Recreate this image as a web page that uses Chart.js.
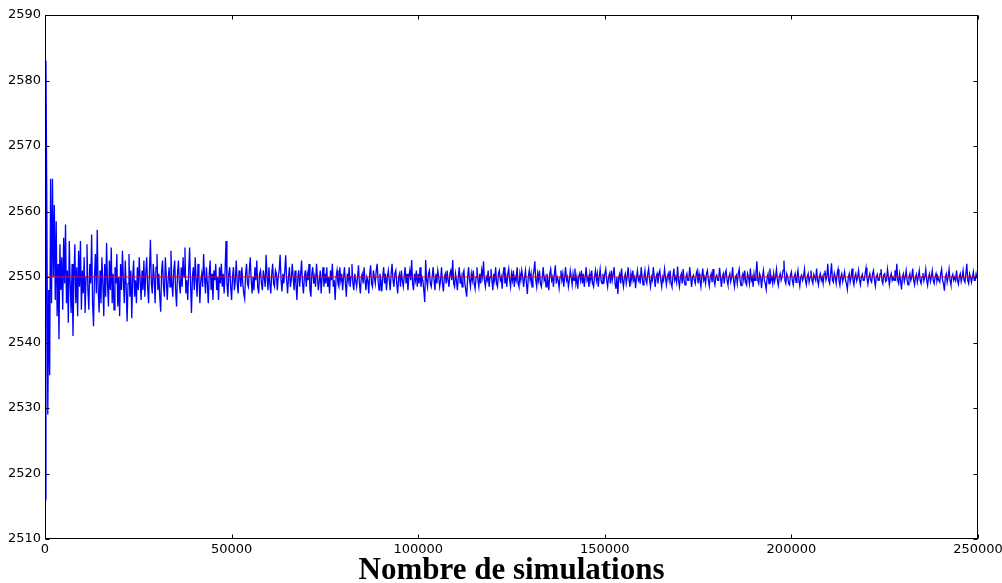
<!DOCTYPE html>
<html>
<head>
<meta charset="utf-8">
<script src="https://cdn.jsdelivr.net/npm/chart.js@4/dist/chart.umd.min.js"></script>
<style>
  html, body { margin: 0; padding: 0; background: #fff; }
  #wrap { width: 1002px; height: 583px; }
</style>
</head>
<body>
<div id="wrap"><canvas id="convChart" width="1002" height="583"></canvas></div>
<script>
// running mean sampled every 250 simulations
const runStep = 250;
const runMeans = [
  2516, 2583, 2560, 2529, 2548, 2535, 2565, 2546, 2565, 2550,
  2561, 2546.5, 2558.5, 2544, 2552, 2540.5, 2555, 2548, 2553, 2545,
  2556, 2549, 2558, 2546, 2551, 2543, 2555.5, 2549, 2544.5, 2552,
  2541, 2550, 2555, 2546, 2551.5, 2544, 2554, 2548.5, 2555.5, 2545,
  2551, 2547.5, 2553, 2544.5, 2550, 2555, 2548, 2545, 2552, 2549,
  2556.5, 2546, 2542.5, 2550, 2553.5, 2547.5, 2557.2, 2548, 2544.6, 2551,
  2546, 2553, 2549, 2544, 2552, 2547, 2555.2, 2549, 2545.5, 2552.5,
  2548, 2554.5, 2546, 2550.5, 2545, 2551.5, 2549, 2553.5, 2545.5, 2550,
  2544, 2552, 2548, 2554, 2549.5, 2546, 2552.5, 2548.5, 2543.2, 2549,
  2553.5, 2547, 2551, 2543.7, 2550, 2552.5, 2547, 2549.5, 2546, 2551.5,
  2548, 2553, 2549.5, 2546.5, 2551, 2548, 2552.5, 2547, 2550.5, 2553,
  2548.5, 2546, 2551, 2555.7, 2549, 2547.5, 2552, 2550, 2546, 2551.5,
  2553.5, 2548, 2550.5, 2547, 2544.7, 2551, 2552.5, 2548.5, 2547, 2553,
  2550, 2546.5, 2549.5, 2551.5, 2548.5, 2554, 2549, 2547, 2551, 2552.5,
  2548, 2545.5, 2550.5, 2552.5, 2549, 2547.5, 2551.5, 2548.5, 2553, 2550,
  2554.5, 2547.5, 2549.5, 2546.5, 2551, 2554.5, 2549, 2544.5, 2550, 2551.5,
  2548, 2553, 2549.5, 2547, 2552, 2550, 2546, 2549.5, 2550.5, 2548.5,
  2553.5, 2550, 2547.5, 2551.5, 2549, 2546, 2550.5, 2552.5, 2548, 2550.5,
  2546.5, 2551, 2549.5, 2552, 2548, 2550, 2546.5, 2551.5, 2549, 2552,
  2548.5, 2550.5, 2547.5, 2551, 2555.5, 2549, 2547, 2550.5, 2551.5, 2548.5,
  2546.5, 2550, 2551.5, 2548, 2549.5, 2552.5, 2549, 2547.5, 2551, 2550,
  2548.5, 2551.5, 2549, 2547.5, 2546.7, 2550.5, 2552, 2549, 2548.5, 2551,
  2553, 2549.5, 2547.5, 2550, 2548, 2551.5, 2549.5, 2552.5, 2548.5, 2547.5,
  2550.5, 2551, 2549, 2548, 2551, 2550, 2548.5, 2553.4, 2550, 2548,
  2551.5, 2549, 2547.5, 2550.5, 2552, 2549, 2548.5, 2551, 2550.5, 2548,
  2550, 2551, 2553.4, 2549.5, 2547.8, 2550.5, 2549, 2551, 2553.3, 2549.5,
  2547.5, 2550, 2551.5, 2548.5, 2549.5, 2552, 2550, 2548, 2551, 2549,
  2546.5, 2550, 2551, 2548.5, 2550.5, 2552.5, 2549, 2547.5, 2550, 2551,
  2548.5, 2550.5, 2549.5, 2552, 2548, 2547, 2550.5, 2551.5, 2549, 2550,
  2548.5, 2552, 2550, 2548, 2549.5, 2551, 2547.5, 2550, 2551.5, 2548.5,
  2550.5, 2549, 2551.5, 2548.5, 2550, 2547.5, 2551, 2549.5, 2552, 2548.5,
  2549.5, 2546.5, 2550, 2551, 2549, 2548.5, 2551.5, 2549.5, 2550.5, 2548,
  2550, 2551.5, 2549, 2547, 2550.5, 2549.5, 2551.5, 2548.5, 2550, 2552,
  2549, 2548, 2550.5, 2549.5, 2548.5, 2550, 2551.8, 2549, 2547.5, 2550,
  2550.5, 2549, 2551.5, 2549.5, 2548, 2550, 2549.5, 2547.5, 2550.5, 2551.8,
  2549, 2548.5, 2551, 2550, 2549, 2551, 2552, 2549.5, 2548, 2550.5,
  2549.5, 2547.8, 2550, 2551.5, 2549, 2550.5, 2548, 2550, 2551, 2549.5,
  2548, 2550.5, 2552, 2549.5, 2548.5, 2550.5, 2551, 2549, 2547.5, 2550,
  2550.5, 2548.5, 2551, 2549.5, 2548.5, 2550, 2551.5, 2549, 2550.5, 2548,
  2550, 2551, 2549.5, 2552.6, 2549, 2548, 2550.5, 2549.5, 2551, 2548.5,
  2550.5, 2549, 2551.5, 2548.5, 2550, 2549.5, 2548, 2546.2, 2552.6, 2549.5,
  2548.5, 2550.5, 2551, 2549, 2548.5, 2550, 2551.5, 2549.5, 2548, 2550.5,
  2549, 2551, 2550, 2548.5, 2549.5, 2551.5, 2549, 2547.8, 2550, 2550.5,
  2549, 2551, 2549.5, 2548.5, 2550.5, 2551, 2549.5, 2552.6, 2549, 2548.5,
  2550.5, 2549.5, 2548, 2550, 2551.5, 2549, 2550, 2548.5, 2550.5, 2551,
  2549, 2548, 2547, 2550, 2551.5, 2549.5, 2548.5, 2550.5, 2549.5, 2551,
  2549, 2548.2, 2550, 2551.5, 2549.5, 2548.5, 2550.5, 2549, 2551, 2550,
  2552.4, 2549.5, 2548.5, 2550, 2549.5, 2551, 2548.5, 2550, 2551.2, 2549.5,
  2548, 2550.5, 2549.5, 2551.5, 2549, 2548.5, 2550.5, 2551, 2549.5, 2550,
  2548.2, 2550.5, 2551.5, 2549, 2550, 2548.5, 2550.5, 2551.3, 2549.5, 2548.5,
  2550.5, 2549.5, 2551, 2548.5, 2550, 2549.5, 2551.5, 2549, 2548.5, 2550.5,
  2549.5, 2551, 2550, 2548.5, 2550, 2551, 2549, 2547.4, 2550, 2551,
  2549.5, 2550.5, 2548.5, 2550, 2551, 2552.4, 2549.5, 2548.5, 2550.5, 2549.5,
  2551, 2549, 2548.5, 2550, 2551.5, 2549.5, 2550, 2548.5, 2550.5, 2549.5,
  2548, 2550.5, 2551.2, 2549.5, 2550, 2548.5, 2550.5, 2551.8, 2549, 2550,
  2549.5, 2548.3, 2550, 2551, 2549.5, 2550.5, 2548.5, 2550, 2551.5, 2549.5,
  2550, 2548.5, 2549.5, 2551, 2550, 2548.8, 2550.5, 2549.5, 2551.3, 2549,
  2550, 2548.2, 2550, 2550.5, 2549.5, 2551, 2549, 2550.5, 2548.5, 2550,
  2551.5, 2549.5, 2550, 2548.5, 2550.5, 2549.5, 2551, 2549, 2548.5, 2550,
  2551, 2549.5, 2550.5, 2548.5, 2550, 2551.2, 2549.5, 2549, 2550.5, 2549,
  2550.5, 2551.2, 2549.5, 2548.5, 2550, 2550.5, 2549, 2551, 2549.5, 2550.5,
  2551.5, 2549, 2548.2, 2550, 2547.4, 2550, 2550.5, 2549, 2551.3, 2549.5,
  2548.5, 2550, 2550.5, 2549, 2550, 2551.5, 2549.5, 2548.5, 2550.5, 2549.5,
  2551, 2549.5, 2550, 2548.3, 2550, 2551, 2549.5, 2550, 2549, 2551.5,
  2550, 2548.8, 2550, 2551, 2549.5, 2549, 2550.5, 2551.3, 2549.5, 2548.5,
  2550, 2549.5, 2551.5, 2550, 2548.5, 2550, 2550.5, 2549, 2550.5, 2551,
  2549.5, 2548.5, 2550, 2549.5, 2551.2, 2550, 2548.8, 2550, 2550.5, 2549.5,
  2551, 2549, 2548.5, 2550, 2551.3, 2549.5, 2550, 2549.2, 2551.6, 2549.5,
  2548.5, 2550, 2550.5, 2549, 2551.2, 2549.5, 2548.8, 2550, 2550.5, 2549.5,
  2549.5, 2551.5, 2550, 2548.5, 2550, 2550.3, 2549.5, 2549, 2550.5, 2551,
  2549, 2550.5, 2549.5, 2548.5, 2550, 2551.3, 2549.5, 2550, 2549, 2550.5,
  2551, 2549.5, 2548.6, 2550, 2550.5, 2549.2, 2551.2, 2549.5, 2548.8, 2550,
  2550.3, 2549.5, 2549.5, 2551.4, 2550, 2548.5, 2550, 2550.5, 2549, 2550.5,
  2551, 2549.5, 2548.8, 2550, 2550.5, 2549.3, 2550, 2551.5, 2549.5, 2548.5,
  2550, 2550.3, 2549, 2550.5, 2551.2, 2549.5, 2548.7, 2550, 2550.5, 2549.5,
  2551, 2549.2, 2548.8, 2550.5, 2550, 2549, 2551.3, 2549.5, 2550, 2548.5,
  2550.5, 2549.5, 2550.5, 2552.4, 2549.5, 2549, 2550.5, 2550, 2548.3, 2550,
  2551, 2549.5, 2549, 2548.1, 2550, 2550.5, 2549, 2551.3, 2549.5, 2550,
  2549, 2550.5, 2549.3, 2550, 2551.2, 2549.5, 2548.7, 2550, 2550.5, 2549.5,
  2550, 2551, 2552.5, 2549.5, 2549, 2550.5, 2550, 2549, 2548.8, 2550.3,
  2550.8, 2549.5, 2548.8, 2550, 2550.5, 2549.2, 2550, 2551, 2549.5, 2548.6,
  2550, 2550.3, 2549.5, 2550, 2551.2, 2549.5, 2548.8, 2550, 2550.5, 2549.2,
  2550, 2551, 2549.5, 2549, 2550.4, 2550, 2549.5, 2551.3, 2549.5, 2548.8,
  2550, 2550.5, 2549.5, 2550, 2549, 2550.5, 2551, 2549.5, 2550, 2552,
  2549.5, 2549, 2550.5, 2552.1, 2549.5, 2549.2, 2550.6, 2550, 2549, 2550.5,
  2551.2, 2549.5, 2548.7, 2550, 2550.5, 2549.3, 2550, 2550.8, 2549.5, 2549,
  2548.1, 2550, 2550.5, 2549.2, 2550, 2551.3, 2549.5, 2548.8, 2550, 2550.5,
  2549.4, 2550, 2551, 2549.5, 2548.8, 2550, 2550.4, 2549.5, 2549.5, 2550.5,
  2551.4, 2549.8, 2548.9, 2550, 2550.5, 2549.5, 2549.2, 2550.5, 2551, 2549.5,
  2548.6, 2550, 2550.4, 2549.5, 2549.5, 2550.5, 2551.2, 2549.5, 2549, 2550.3,
  2550.5, 2549.3, 2549.5, 2551.2, 2550, 2548.8, 2550, 2550.5, 2549.5, 2550,
  2549.5, 2551, 2550, 2552, 2549.5, 2549, 2550.5, 2549.5, 2548.1, 2550,
  2550.5, 2549.3, 2550, 2551, 2549.5, 2548.8, 2550, 2550.5, 2549.5, 2550,
  2551.3, 2549.5, 2548.8, 2550, 2550.4, 2549.2, 2550, 2551, 2549.5, 2549,
  2550, 2550.6, 2549.4, 2550, 2551.2, 2549.5, 2548.7, 2550, 2550.5, 2549.3,
  2550, 2551, 2549.5, 2549, 2550, 2550.5, 2549.4, 2550, 2549.5, 2549.2,
  2550.5, 2551.2, 2549.5, 2549, 2547.9, 2550, 2550.5, 2549.2, 2550, 2551.2,
  2549.5, 2548.8, 2550, 2550.4, 2549.5, 2550, 2549.5, 2551, 2549.5, 2548.9,
  2550, 2550.5, 2549.3, 2550, 2551, 2549.5, 2549.2, 2550.5, 2552, 2549.5,
  2549, 2550.5, 2550, 2549.2, 2550, 2550.8, 2549.5, 2549.5, 2550.5, 2549.8
];
// reference value drawn as a flat line
const targetValue = 2550;
const xRange = [0, 250000];
const yRange = [2510, 2590];
const xTickStep = 50000;
const yTickStep = 10;
const xLabel = 'Nombre de simulations';

const meanPoints = runMeans.map((v, i) => ({ x: i * runStep, y: v }));
const targetPoints = xRange.map(x => ({ x: x, y: targetValue }));

// box around the plot with short inward ticks on all four sides
const frameTicks = {
  id: 'frameTicks',
  afterDatasetsDraw(chart) {
    const { ctx, chartArea: a, scales: { x, y } } = chart;
    const l = Math.round(a.left) + 0.5, r = Math.round(a.right) - 0.5;
    const t = Math.round(a.top) + 0.5, b = Math.round(a.bottom) - 0.5;
    ctx.save();
    ctx.strokeStyle = '#000';
    ctx.lineWidth = 1;
    ctx.beginPath();
    x.ticks.forEach(tk => {
      const px = Math.round(x.getPixelForValue(tk.value)) + 0.5;
      ctx.moveTo(px, b); ctx.lineTo(px, b - 4);
      ctx.moveTo(px, t); ctx.lineTo(px, t + 4);
    });
    y.ticks.forEach(tk => {
      const py = Math.round(y.getPixelForValue(tk.value)) + 0.5;
      ctx.moveTo(l, py); ctx.lineTo(l + 4, py);
      ctx.moveTo(r, py); ctx.lineTo(r - 4, py);
    });
    ctx.stroke();
    ctx.strokeRect(l, t, r - l, b - t);
    ctx.restore();
  }
};

new Chart(document.getElementById('convChart'), {
  type: 'line',
  data: {
    datasets: [
      {
        data: targetPoints,
        borderColor: '#ff0000',
        borderWidth: 1,
        pointRadius: 0,
        tension: 0
      },
      {
        data: meanPoints,
        borderColor: '#0000ff',
        borderWidth: 1.3,
        pointRadius: 0,
        tension: 0
      }
    ]
  },
  options: {
    responsive: false,
    devicePixelRatio: 1,
    animation: false,
    layout: { padding: { top: 15, right: 24, left: 0, bottom: 0 } },
    plugins: { legend: { display: false }, tooltip: { enabled: false } },
    scales: {
      x: {
        type: 'linear',
        min: xRange[0],
        max: xRange[1],
        grid: { display: false, drawTicks: false },
        border: { display: false },
        ticks: {
          stepSize: xTickStep,
          padding: 3,
          maxRotation: 0,
          color: '#000',
          font: { family: 'DejaVu Sans', size: 13 },
          callback: v => String(v)
        },
        title: {
          display: true,
          text: xLabel,
          color: '#000',
          padding: 0,
          font: { family: 'Liberation Serif', size: 31, weight: 'bold', lineHeight: 0.75 }
        },
        afterFit(scale) {
          scale.height = 44;
          scale.paddingLeft = 0;
          scale.paddingRight = 0;
        }
      },
      y: {
        min: yRange[0],
        max: yRange[1],
        grid: { display: false, drawTicks: false },
        border: { display: false },
        ticks: {
          stepSize: yTickStep,
          padding: 4,
          color: '#000',
          font: { family: 'DejaVu Sans', size: 13 },
          callback: v => String(v)
        },
        afterFit(scale) {
          scale.width = 45;
          scale.paddingTop = 0;
          scale.paddingBottom = 0;
        }
      }
    }
  },
  plugins: [frameTicks]
});
</script>
</body>
</html>
